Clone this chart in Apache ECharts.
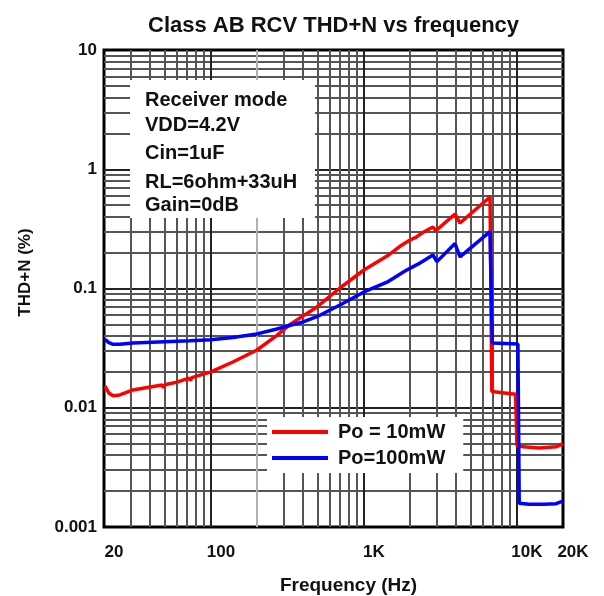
<!DOCTYPE html>
<html>
<head>
<meta charset="utf-8">
<script src="https://cdn.jsdelivr.net/npm/echarts@6/dist/echarts.min.js"></script>
<style>html,body{margin:0;padding:0;background:#fff}#c{width:604px;height:596px}</style>
</head>
<body>
<div id="c"></div>
<script>
// ---- data ----
const redFreq = [20.3, 21.5, 22.9, 25.4, 30.9, 40, 48, 49, 50, 60, 72, 73.5, 75, 100, 139, 200, 270, 329, 493, 697, 1000, 1416, 1721, 2000, 2200, 2394, 2450, 2825, 2950, 3935, 4245, 6670, 6850, 9800, 10000, 11000, 14000, 18000, 20000];
const redTHD  = [0.0152, 0.0133, 0.0126, 0.0128, 0.0141, 0.0149, 0.0155, 0.0147, 0.0156, 0.0164, 0.0177, 0.0169, 0.0179, 0.0200, 0.0242, 0.0305, 0.0405, 0.0500, 0.0700, 0.101, 0.143, 0.187, 0.226, 0.255, 0.270, 0.292, 0.285, 0.328, 0.305, 0.420, 0.354, 0.585, 0.0137, 0.0130, 0.0048, 0.0047, 0.0046, 0.0047, 0.0050];
const blueFreq = [20.3, 21.5, 23, 25.4, 30.9, 50, 73, 100, 139, 200, 270, 318, 400, 493, 697, 1000, 1416, 1800, 1906, 2255, 2300, 2825, 3000, 3935, 4245, 6670, 6900, 10150, 10350, 12000, 15000, 18000, 20000];
const blueTHD  = [0.0375, 0.0352, 0.0340, 0.0341, 0.0349, 0.0358, 0.0365, 0.0372, 0.0388, 0.0416, 0.0458, 0.0485, 0.0525, 0.0580, 0.0728, 0.0935, 0.113, 0.137, 0.143, 0.160, 0.155, 0.191, 0.168, 0.238, 0.184, 0.300, 0.0349, 0.0342, 0.00158, 0.00155, 0.00155, 0.00157, 0.00165];
const seriesNames = ['Po = 10mW', 'Po=100mW'];

const xTickValues = [20, 100, 1000, 10000, 20000];
const xTickLabels = ['20', '100', '1K', '10K', '20K'];
const xGridValues = [20, 30, 40, 50, 60, 70, 80, 90, 100, 200, 300, 400, 500, 600, 700, 800, 900, 1000, 2000, 3000, 4000, 5000, 6000, 7000, 8000, 9000, 10000, 20000];
const yTickValues = [0.001, 0.01, 0.1, 1, 10];
const yTickLabels = ['0.001', '0.01', '0.1', '1', '10'];
const yGridValues = [0.001, 0.002, 0.003, 0.004, 0.005, 0.006, 0.007, 0.008, 0.009, 0.01, 0.02, 0.03, 0.04, 0.05, 0.06, 0.07, 0.08, 0.09, 0.1, 0.2, 0.3, 0.4, 0.5, 0.6, 0.7, 0.8, 0.9, 1, 2, 3, 4, 5, 6, 7, 8, 9, 10];

const titleText = 'Class AB RCV THD+N vs frequency';
const xName = 'Frequency (Hz)';
const yName = 'THD+N (%)';
const noteLines = ['Receiver mode', 'VDD=4.2V', 'Cin=1uF', 'RL=6ohm+33uH', 'Gain=0dB'];

// ---- helpers ----
function lookup(vals, labels, v) {
  for (let i = 0; i < vals.length; i++) if (Math.abs(v - vals[i]) / vals[i] < 1e-6) return labels[i];
  return '';
}
function gridColors(vals, majorSet) {
  return vals.map((v, i) => {
    if (i === 0 || i === vals.length - 1) return 'rgba(0,0,0,0)';
    if (v === 200) return '#b0b0b0';
    return majorSet.some(m => Math.abs(v - m) / m < 1e-9) ? '#222' : '#555';
  });
}
const FONT = 'Liberation Sans';

const chart = echarts.init(document.getElementById('c'), null, {renderer: 'canvas'});
const noteY = [100, 125, 153, 182, 205];
chart.setOption({
  backgroundColor: '#fff',
  animation: false,
  title: {
    text: titleText, left: 143, top: 10,
    textStyle: {fontFamily: FONT, fontWeight: 'bold', fontSize: 22, color: '#111'}
  },
  grid: {left: 104, right: 41, top: 50, bottom: 69, show: true, borderColor: '#000', borderWidth: 3,
         backgroundColor: 'rgba(0,0,0,0)', containLabel: false, outerBoundsMode: 'none'},
  legend: {
    left: 267, top: 417, orient: 'vertical', backgroundColor: '#fff',
    padding: [5, 18, 5, 5], itemGap: 6, itemWidth: 56, itemHeight: 4, icon: 'rect',
    textStyle: {fontFamily: FONT, fontWeight: 'bold', fontSize: 20, color: '#111', padding: [0, 0, 0, 5]},
    data: seriesNames
  },
  xAxis: {
    type: 'log', logBase: 10, min: 20, max: 20000,
    name: xName, nameLocation: 'middle', nameGap: 49,
    nameTextStyle: {fontFamily: FONT, fontWeight: 'bold', fontSize: 19, color: '#111', padding: [0, 0, 0, 30]},
    axisLine: {show: false},
    axisTick: {show: false, customValues: xGridValues},
    axisLabel: {
      customValues: xTickValues, margin: 17, align: 'center', padding: [0, 0, 0, 20],
      fontFamily: FONT, fontWeight: 'bold', fontSize: 17, color: '#111',
      formatter: v => lookup(xTickValues, xTickLabels, v)
    },
    splitLine: {show: true, lineStyle: {width: 2, color: gridColors(xGridValues, [100, 1000, 10000])}}
  },
  yAxis: {
    type: 'log', logBase: 10, min: 0.001, max: 10,
    name: yName, nameLocation: 'middle', nameGap: 70, nameRotate: 90,
    nameTextStyle: {fontFamily: FONT, fontWeight: 'bold', fontSize: 17, color: '#111', padding: [0, 0, 0, 32]},
    axisLine: {show: false},
    axisTick: {show: false, customValues: yGridValues},
    axisLabel: {
      customValues: yTickValues, margin: 7,
      fontFamily: FONT, fontWeight: 'bold', fontSize: 17, color: '#111',
      formatter: v => lookup(yTickValues, yTickLabels, v)
    },
    splitLine: {show: true, lineStyle: {width: 2, color: gridColors(yGridValues, [0.01, 0.1, 1])}}
  },
  graphic: [
    {type: 'rect', left: 130, top: 80, shape: {width: 185, height: 138}, style: {fill: '#fff'}, z: 5},
    ...noteLines.map((t, i) => ({
      type: 'text', x: 145, y: noteY[i], z: 6,
      style: {text: t, fill: '#111', font: 'bold 20px "Liberation Sans"', textVerticalAlign: 'middle'}
    }))
  ],
  series: [
    {name: seriesNames[0], type: 'line', showSymbol: false, symbol: 'none', z: 3,
     lineStyle: {color: '#ff0000', width: 3.5}, itemStyle: {color: '#ff0000'},
     data: redFreq.map((f, i) => [f, redTHD[i]])},
    {name: seriesNames[1], type: 'line', showSymbol: false, symbol: 'none', z: 3,
     lineStyle: {color: '#0000ff', width: 3.5}, itemStyle: {color: '#0000ff'},
     data: blueFreq.map((f, i) => [f, blueTHD[i]])}
  ]
});
</script>
</body>
</html>
